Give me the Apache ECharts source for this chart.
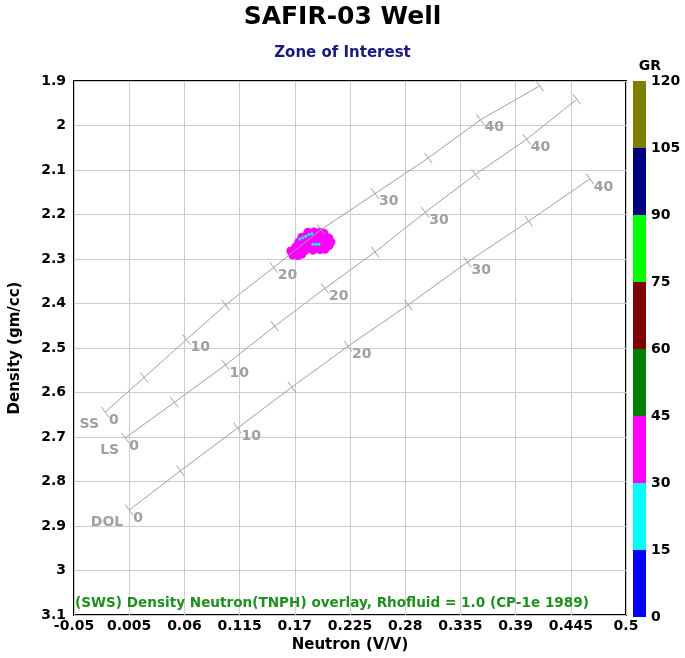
<!DOCTYPE html>
<html>
<head>
<meta charset="utf-8">
<script src="https://cdn.jsdelivr.net/npm/echarts@6/dist/echarts.min.js"></script>
<style>
html, body { margin: 0; padding: 0; background: #fff; }
#chart { width: 685px; height: 658px; }
</style>
</head>
<body>
<div id="chart"></div>
<script>
var neutronTicks = [-0.05, 0.005, 0.06, 0.115, 0.17, 0.225, 0.28, 0.335, 0.39, 0.445, 0.5];
var densityTicks = [1.9, 2, 2.1, 2.2, 2.3, 2.4, 2.5, 2.6, 2.7, 2.8, 2.9, 3, 3.1];
var grTicks = [0, 15, 30, 45, 60, 75, 90, 105, 120];
var grColors = ['#0000ff', '#00ffff', '#ff00ff', '#008000', '#800000', '#00ff00', '#000080', '#808000'];

// porosity (p.u.) along each lithology line
var porosity = [0, 5, 10, 15, 20, 25, 30, 35, 40, 45];
var ssNeutron = [-0.019, 0.020, 0.062, 0.101, 0.149, 0.196, 0.250, 0.303, 0.355, 0.414];
var ssDensity = [2.644, 2.566, 2.481, 2.403, 2.319, 2.234, 2.153, 2.073, 1.987, 1.911];
var lsNeutron = [0.001, 0.050, 0.101, 0.150, 0.200, 0.250, 0.300, 0.350, 0.401, 0.451];
var lsDensity = [2.702, 2.622, 2.538, 2.451, 2.366, 2.284, 2.195, 2.110, 2.031, 1.941];
var dolNeutron = [0.005, 0.056, 0.113, 0.167, 0.223, 0.283, 0.342, 0.403, 0.464];
var dolDensity = [2.864, 2.776, 2.680, 2.588, 2.496, 2.403, 2.307, 2.215, 2.120];

// zone of interest samples: [neutron, density, GR]
var zonePoints = [
	[0.183, 2.240, 38], [0.189, 2.239, 40], [0.195, 2.240, 36], [0.199, 2.242, 41],
	[0.177, 2.251, 39], [0.182, 2.250, 42], [0.188, 2.251, 37], [0.194, 2.251, 35], [0.200, 2.250, 40], [0.204, 2.253, 43],
	[0.174, 2.262, 41], [0.179, 2.263, 36], [0.185, 2.263, 39], [0.191, 2.262, 42], [0.197, 2.263, 38], [0.202, 2.262, 35], [0.206, 2.262, 40],
	[0.171, 2.273, 37], [0.176, 2.274, 43], [0.182, 2.274, 38], [0.188, 2.273, 36], [0.194, 2.274, 40], [0.200, 2.272, 39], [0.204, 2.270, 41],
	[0.166, 2.282, 42], [0.169, 2.284, 38], [0.174, 2.283, 35], [0.180, 2.281, 40], [0.188, 2.280, 37], [0.195, 2.279, 39], [0.200, 2.278, 36],
	[0.168, 2.291, 40], [0.173, 2.292, 43], [0.177, 2.289, 38]
];
var zoneLowGR = [
	[0.175, 2.255, 27], [0.178, 2.252, 28], [0.181, 2.249, 26], [0.184, 2.245, 29], [0.187, 2.243, 28],
	[0.188, 2.267, 27], [0.191, 2.267, 29], [0.194, 2.267, 28]
];

var footnote = '(SWS) Density Neutron(TNPH) overlay, Rhofluid = 1.0 (CP-1e 1989)';

var lineGray = '#a0a0a0';
var labelFont = 'bold 14px "DejaVu Sans"';

function pairs(xs, ys) {
	return xs.map(function(x, i) { return [x, ys[i], porosity[i]]; });
}

function lithoLine(name, xs, ys) {
	return {
		name : name,
		type : 'line',
		data : pairs(xs, ys),
		showSymbol : false,
		silent : true,
		z : 3,
		lineStyle : { color : lineGray, width : 1 }
	};
}

function lithoTicks(name, xs, ys) {
	var last = xs.length - 1;
	return {
		type : 'custom',
		silent : true,
		z : 4,
		data : pairs(xs, ys),
		renderItem : function(params, api) {
			var a = api.coord([xs[0], ys[0]]);
			var b = api.coord([xs[last], ys[last]]);
			var dx = b[0] - a[0], dy = b[1] - a[1];
			var len = Math.sqrt(dx * dx + dy * dy);
			var ux = -dy / len, uy = dx / len;
			var p = api.coord([api.value(0), api.value(1)]);
			var h = 6.5;
			var phi = api.value(2);
			var children = [ {
				type : 'line',
				shape : { x1 : p[0] - ux * h, y1 : p[1] - uy * h, x2 : p[0] + ux * h, y2 : p[1] + uy * h },
				style : { stroke : lineGray, lineWidth : 1 }
			} ];
			if (phi % 10 === 0) {
				children.push({
					type : 'text',
					x : p[0] + 4,
					y : p[1] + 8,
					style : { text : String(phi), fill : lineGray, font : labelFont, align : 'left', verticalAlign : 'middle' }
				});
			}
			if (phi === 0) {
				children.push({
					type : 'text',
					x : p[0] - 6,
					y : p[1] + 12,
					style : { text : name, fill : lineGray, font : labelFont, align : 'right', verticalAlign : 'middle' }
				});
			}
			return { type : 'group', children : children };
		}
	};
}

function grColor(gr) {
	for (var i = 0; i < grColors.length; i++) {
		if (gr < grTicks[i + 1]) return grColors[i];
	}
	return grColors[grColors.length - 1];
}

var series = [
	{
		name : 'zone',
		type : 'scatter',
		data : zonePoints,
		symbolSize : 9,
		silent : true,
		z : 1,
		itemStyle : { color : function(p) { return grColor(p.value[2]); }, opacity : 1 }
	},
	{
		name : 'zoneLow',
		type : 'scatter',
		data : zoneLowGR,
		symbolSize : 3,
		silent : true,
		z : 2,
		itemStyle : { color : function(p) { return grColor(p.value[2]); }, opacity : 1 }
	},
	lithoLine('SS', ssNeutron, ssDensity),
	lithoLine('LS', lsNeutron, lsDensity),
	lithoLine('DOL', dolNeutron, dolDensity),
	lithoTicks('SS', ssNeutron, ssDensity),
	lithoTicks('LS', lsNeutron, lsDensity),
	lithoTicks('DOL', dolNeutron, dolDensity)
];

for (var i = 0; i < grColors.length; i++) {
	series.push({
		type : 'bar',
		xAxisIndex : 1,
		yAxisIndex : 1,
		stack : 'gr',
		silent : true,
		barWidth : '100%',
		data : [ grTicks[i + 1] - grTicks[i] ],
		itemStyle : { color : grColors[i] }
	});
}

var option = {
	animation : false,
	title : [ {
		text : 'SAFIR-03 Well',
		left : 'center',
		top : 0,
		textStyle : { fontFamily : 'DejaVu Sans', fontWeight : 'bold', fontSize : 25, color : '#000' }
	}, {
		text : 'Zone of Interest',
		left : 'center',
		top : 41,
		textStyle : { fontFamily : 'DejaVu Sans', fontWeight : 'bold', fontSize : 15, color : '#1a1a80' }
	} ],
	grid : [ {
		left : 70,
		top : 81,
		width : 556,
		height : 536,
		show : true,
		borderColor : '#000',
		borderWidth : 2,
		backgroundColor : '#fff'
	}, {
		left : 633,
		top : 81,
		width : 13,
		height : 536
	} ],
	xAxis : [ {
		type : 'value',
		min : -0.05,
		max : 0.5,
		name : 'Neutron (V/V)',
		nameLocation : 'middle',
		nameGap : 22,
		nameTextStyle : { fontFamily : 'DejaVu Sans', fontWeight : 'bold', fontSize : 15, color : '#000' },
		axisLine : { show : false },
		axisTick : { show : false, customValues : neutronTicks },
		axisLabel : {
			customValues : neutronTicks,
			margin : 4,
			fontFamily : 'DejaVu Sans',
			fontWeight : 'bold',
			fontSize : 14,
			color : '#000',
			formatter : function(v) { return String(+v.toFixed(3)); }
		},
		splitLine : { show : true, lineStyle : { color : '#cccccc', width : 1 } }
	}, {
		type : 'category',
		gridIndex : 1,
		data : [ 'GR' ],
		show : false
	} ],
	yAxis : [ {
		type : 'value',
		inverse : true,
		min : 1.9,
		max : 3.1,
		name : 'Density (gm/cc)',
		nameLocation : 'middle',
		nameGap : 51,
		nameTextStyle : { fontFamily : 'DejaVu Sans', fontWeight : 'bold', fontSize : 15, color : '#000' },
		axisLine : { show : false },
		axisTick : { show : false, customValues : densityTicks },
		axisLabel : {
			customValues : densityTicks,
			margin : 8,
			fontFamily : 'DejaVu Sans',
			fontWeight : 'bold',
			fontSize : 14,
			color : '#000',
			formatter : function(v) { return String(+v.toFixed(2)); }
		},
		splitLine : { show : true, lineStyle : { color : '#cccccc', width : 1 } }
	}, {
		type : 'value',
		gridIndex : 1,
		position : 'right',
		min : 0,
		max : 120,
		interval : 15,
		name : 'GR',
		nameLocation : 'end',
		nameGap : 8,
		nameTextStyle : { fontFamily : 'DejaVu Sans', fontWeight : 'bold', fontSize : 14, color : '#000', padding : [0, 0, 0, 8] },
		axisLine : { show : false },
		axisTick : { show : false },
		splitLine : { show : false },
		axisLabel : { margin : 5, fontFamily : 'DejaVu Sans', fontWeight : 'bold', fontSize : 14, color : '#000' }
	} ],
	graphic : [ {
		type : 'text',
		left : 75,
		top : 596,
		z : 10,
		style : { text : footnote, fill : '#1f8f1f', font : 'bold 13.6px "DejaVu Sans"' }
	} ],
	series : series
};

var chart = echarts.init(document.getElementById('chart'));
chart.setOption(option);
</script>
</body>
</html>
